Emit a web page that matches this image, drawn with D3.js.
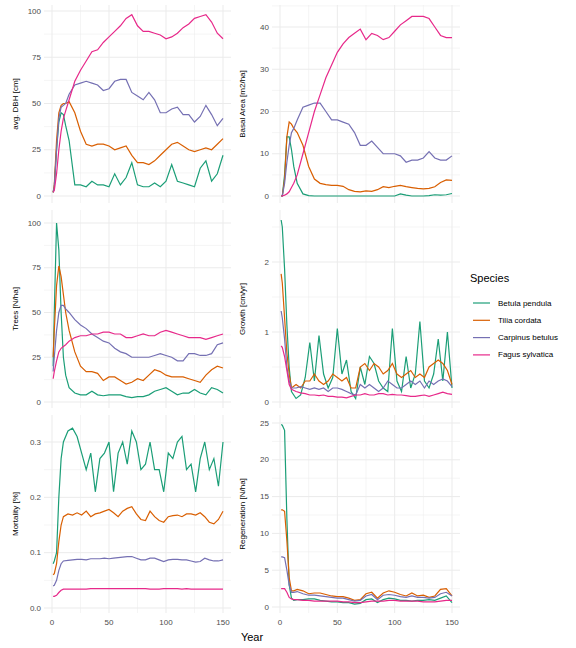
<!DOCTYPE html>
<html><head><meta charset="utf-8">
<script src="https://cdn.jsdelivr.net/npm/d3@7"></script>
<style>body{margin:0;background:#fff;font-family:"Liberation Sans",Arial,sans-serif}</style>
</head><body><svg id="chart" width="576" height="648"></svg>
<script>
// Species and colours
const species = ["Betula pendula", "Tilia cordata", "Carpinus betulus", "Fagus sylvatica"];
const colors = ["#1B9E77", "#D95F02", "#7570B3", "#E7298A"];

// Sampled years
const years = [1,2,4,6,8,10,12,15,20,25,30,35,40,45,50,55,60,65,70,75,80,85,90,95,100,105,110,115,120,125,130,135,140,145,150];
const years2 = [1,2,4,6,8,10,14,18,22,26,30,34,38,42,46,50,54,58,62,66,70,74,78,82,86,90,94,98,102,106,110,114,118,122,126,130,134,138,142,146,150];

// avg. DBH [cm]
const dbhBetula = [2,5,25,40,45,44,38,30,6,6,5,8,6,6,5,12,6,10,18,6,5,5,7,5,8,17,8,7,6,5,15,19,8,12,22];
const dbhTilia = [2,6,30,45,49,50,50,51,45,35,28,27,28,28,27,25,26,27,22,18,18,17,19,22,25,28,29,27,25,24,25,26,25,28,31];
const dbhCarpinus = [2,5,25,42,48,49,50,55,60,61,62,61,60,57,58,62,63,63,56,54,52,56,52,45,45,47,48,44,44,40,43,49,44,38,42];
const dbhFagus = [2,3,12,25,35,42,46,52,62,68,73,78,79,83,86,89,92,96,98,92,89,89,88,87,85,86,88,91,93,96,97,98,94,88,85];

// Basal Area [m2/ha]
const baBetula = [0,0,5,14,14,11,7,3,0.5,0.1,0,0,0,0,0,0,0,0,0,0,0,0,0,0,0,0.5,0.2,0,0,0,0.1,0.3,0.2,0.3,0.6];
const baTilia = [0,0,4,14,17.5,17,16,15,12,7,4,3,2.7,2.5,2.5,2.3,1.5,1.1,1.0,1.2,1.1,1.5,2.2,2.0,2.3,2.5,2.2,2.0,1.8,1.7,1.8,2.2,3.2,3.8,3.7];
const baCarpinus = [0,0,3,8,12,15,16,18,21,21.5,22,22,20,18,18,17.5,17,15,12,12,13,11.5,10,10,10,9.5,8,8.5,8.5,9,10.5,9,8.5,8.5,9.5];
const baFagus = [0,0,0.2,0.5,1,2,3,5,10,15,20,24,28,31,34,36,37.5,38.5,39.5,37,38.5,38,37,37.5,39,40.5,41.5,42.5,42.5,42.5,42,40,38,37.5,37.5];

// Trees [N/ha]
const trBetula = [20,50,100,85,50,25,15,8,5,4,4,6,4,3.5,4,4,4,3,2.5,3,3,4,6,7,8,6,4,5,5,7,5,4,8,7,5];
const trTilia = [25,40,65,76,70,60,50,40,28,20,17,17,16,12,14,14,12,10,11,13,12,15,18,17,15,14,14,14,13,12,11,15,18,20,19];
const trCarpinus = [17,25,40,50,54,54,52,50,46,43,41,38,36,34,33,30,28,27,25,25,25,25,26,27,26,25,23,23,27,27,26,26,27,32,33];
const trFagus = [13,17,23,28,30,31,32,34,36,37,37,38,38,39,39,38,38,36,36,37,38,37,37,39,40,39,38,37,36,36,36,35,36,37,38];

// Growth [cm/yr] (years2)
const grBetula = [2.6,2.5,1.9,1.1,0.5,0.15,0.05,0.1,0.35,0.85,0.3,0.95,0.4,0.2,0.35,1.05,0.4,0.6,0.15,0.05,0.5,0.25,0.65,0.55,0.3,0.2,0.15,1.05,0.3,0.15,0.65,0.2,0.4,1.15,0.3,0.2,0.4,0.9,0.3,1.0,0.2];
const grTilia = [1.83,1.7,1.2,0.7,0.4,0.2,0.25,0.2,0.3,0.3,0.4,0.3,0.25,0.3,0.4,0.35,0.3,0.35,0.2,0.2,0.5,0.55,0.45,0.55,0.5,0.4,0.45,0.55,0.4,0.35,0.4,0.45,0.35,0.4,0.35,0.5,0.55,0.6,0.55,0.45,0.25];
const grCarpinus = [1.3,1.2,0.9,0.5,0.3,0.2,0.2,0.22,0.2,0.18,0.2,0.18,0.2,0.15,0.2,0.2,0.18,0.15,0.12,0.1,0.25,0.2,0.25,0.2,0.15,0.2,0.3,0.25,0.2,0.2,0.25,0.3,0.25,0.3,0.2,0.3,0.25,0.3,0.33,0.3,0.22];
const grFagus = [0.8,0.78,0.65,0.45,0.25,0.18,0.15,0.13,0.12,0.1,0.1,0.09,0.1,0.08,0.08,0.07,0.07,0.06,0.08,0.1,0.1,0.12,0.1,0.1,0.12,0.12,0.1,0.11,0.1,0.1,0.09,0.08,0.08,0.09,0.1,0.08,0.1,0.12,0.14,0.12,0.11];

// Mortality [%] (years2)
const moBetula = [0.08,0.085,0.1,0.2,0.27,0.3,0.32,0.325,0.31,0.28,0.25,0.28,0.21,0.27,0.28,0.3,0.21,0.28,0.3,0.26,0.32,0.3,0.25,0.26,0.3,0.25,0.25,0.21,0.28,0.27,0.3,0.31,0.25,0.26,0.21,0.27,0.3,0.25,0.27,0.22,0.3];
const moTilia = [0.06,0.062,0.08,0.12,0.15,0.165,0.17,0.168,0.172,0.168,0.175,0.165,0.17,0.172,0.175,0.178,0.172,0.165,0.175,0.18,0.183,0.17,0.16,0.158,0.175,0.165,0.158,0.155,0.165,0.167,0.168,0.165,0.17,0.17,0.168,0.172,0.165,0.155,0.152,0.16,0.175];
const moCarpinus = [0.04,0.041,0.05,0.068,0.08,0.085,0.086,0.087,0.088,0.088,0.087,0.089,0.089,0.089,0.09,0.089,0.09,0.091,0.092,0.093,0.093,0.09,0.087,0.087,0.09,0.09,0.087,0.084,0.087,0.088,0.088,0.087,0.087,0.085,0.083,0.084,0.09,0.087,0.085,0.085,0.087];
const moFagus = [0.021,0.021,0.023,0.028,0.032,0.034,0.034,0.034,0.034,0.034,0.034,0.035,0.035,0.035,0.035,0.035,0.035,0.035,0.035,0.035,0.035,0.035,0.035,0.035,0.034,0.034,0.034,0.035,0.035,0.035,0.035,0.034,0.035,0.034,0.034,0.034,0.034,0.034,0.034,0.034,0.034];

// Regeneration [N/ha]
const reBetula = [24.8,24.7,24,12,3,1.2,0.9,1.0,1.0,1.1,1.1,0.9,0.8,0.7,0.7,0.6,0.6,0.4,0.5,1.0,1.1,0.6,1.0,1.2,1.1,0.9,0.9,0.8,0.9,0.9,1.0,0.9,1.2,1.5,0.6];
const reTilia = [13.2,13.2,13.0,9,4,2.2,2.2,2.4,2.2,1.8,1.9,1.9,1.7,1.5,1.4,1.4,1.2,0.9,1.0,1.8,2.0,1.2,1.9,2.2,2.0,1.7,1.5,1.9,1.5,1.6,1.3,1.5,2.4,2.5,1.5];
const reCarpinus = [6.8,6.8,6.7,5,3,2.0,2.0,2.1,1.8,1.6,1.6,1.5,1.4,1.3,1.2,1.2,1.0,0.8,0.9,1.5,1.7,1.0,1.6,1.7,1.6,1.4,1.3,1.5,1.3,1.3,1.2,1.3,1.8,2.0,1.5];
const reFagus = [2.5,2.5,2.5,2.0,1.3,1.1,1.0,1.0,0.9,0.9,0.8,0.8,0.8,0.8,0.8,0.7,0.7,0.6,0.6,0.7,0.8,0.8,0.8,0.9,0.9,0.8,0.8,0.8,0.8,0.7,0.7,0.7,0.8,0.9,0.9];

const xTicks = [0, 50, 100, 150];

const panels = [
  {title: "avg. DBH [cm]", x: years, series: [dbhBetula, dbhTilia, dbhCarpinus, dbhFagus], col: 0, top: 5, y0: 196, y1: 11, ymax: 100, ticks: [0,25,50,75,100], fmt: d3.format("d")},
  {title: "Basal Area [m2/ha]", x: years, series: [baBetula, baTilia, baCarpinus, baFagus], col: 1, top: 5, y0: 196, y1: 27, ymax: 40, ticks: [0,10,20,30,40], fmt: d3.format("d")},
  {title: "Trees [N/ha]", x: years, series: [trBetula, trTilia, trCarpinus, trFagus], col: 0, top: 210, y0: 402, y1: 223, ymax: 100, ticks: [0,25,50,75,100], fmt: d3.format("d")},
  {title: "Growth [cm/yr]", x: years2, series: [grBetula, grTilia, grCarpinus, grFagus], col: 1, top: 210, y0: 402, y1: 262, ymax: 2, ticks: [0,1,2], fmt: d3.format("d")},
  {title: "Mortality [%]", x: years2, series: [moBetula, moTilia, moCarpinus, moFagus], col: 0, top: 415, y0: 608, y1: 442, ymax: 0.3, ticks: [0,0.1,0.2,0.3], fmt: d3.format(".1f"), bottom: true},
  {title: "Regeneration [N/ha]", x: years, series: [reBetula, reTilia, reCarpinus, reFagus], col: 1, top: 415, y0: 607, y1: 423, ymax: 25, ticks: [0,5,10,15,20,25], fmt: d3.format("d"), bottom: true}
];

const svg = d3.select("#chart");
const panelH = 198;
const colX = [{left: 44, right: 231, x0: 52, x1: 223, label: 18}, {left: 272, right: 460, x0: 280, x1: 452, label: 245}];

panels.forEach(p => {
  const c = colX[p.col];
  const x = d3.scaleLinear().domain([0, 150]).range([c.x0, c.x1]);
  const y = d3.scaleLinear().domain([0, p.ymax]).range([p.y0, p.y1]);
  const yTop = y.invert(p.top), yBot = y.invert(p.top + panelH);
  const g = svg.append("g");

  // Minor grid
  const step = p.ticks[1] - p.ticks[0];
  const minorY = [];
  for (let i = 0; i < p.ticks.length + 1; i++) {
    const v = p.ticks[0] + step * (i - 0.5);
    if (v > yBot && v < yTop) minorY.push(v);
  }
  g.selectAll(".my").data(minorY).join("line")
    .attr("x1", c.left).attr("x2", c.right)
    .attr("y1", d => y(d)).attr("y2", d => y(d))
    .attr("stroke", "#ebebeb").attr("stroke-width", 0.5);
  g.selectAll(".mx").data([25, 75, 125]).join("line")
    .attr("y1", p.top).attr("y2", p.top + panelH)
    .attr("x1", d => x(d)).attr("x2", d => x(d))
    .attr("stroke", "#ebebeb").attr("stroke-width", 0.5);
  // Major grid
  g.selectAll(".gy").data(p.ticks).join("line")
    .attr("x1", c.left).attr("x2", c.right)
    .attr("y1", d => y(d)).attr("y2", d => y(d))
    .attr("stroke", "#ebebeb").attr("stroke-width", 1);
  g.selectAll(".gx").data(xTicks).join("line")
    .attr("y1", p.top).attr("y2", p.top + panelH)
    .attr("x1", d => x(d)).attr("x2", d => x(d))
    .attr("stroke", "#ebebeb").attr("stroke-width", 1);

  // Y tick labels
  g.selectAll(".yl").data(p.ticks).join("text")
    .attr("x", c.left - 3).attr("y", d => y(d))
    .attr("text-anchor", "end").attr("dominant-baseline", "central")
    .attr("font-size", 8).attr("fill", "#4d4d4d")
    .text(p.fmt);

  // Axis title
  g.append("text")
    .attr("transform", `translate(${c.label},${p.top + panelH / 2}) rotate(-90)`)
    .attr("text-anchor", "middle").attr("font-size", 8).attr("fill", "#000")
    .text(p.title);

  // X tick labels on bottom row
  if (p.bottom) {
    g.selectAll(".xl").data(xTicks).join("text")
      .attr("x", d => x(d)).attr("y", 625)
      .attr("text-anchor", "middle").attr("font-size", 8).attr("fill", "#4d4d4d")
      .text(d => d);
  }

  // Lines
  const line = d3.line().x((d, i) => x(p.x[i])).y(d => y(d));
  p.series.forEach((s, i) => {
    g.append("path").datum(s)
      .attr("d", line)
      .attr("fill", "none").attr("stroke", colors[i]).attr("stroke-width", 1.2);
  });
});

// Shared x title
svg.append("text").attr("x", 252).attr("y", 641)
  .attr("text-anchor", "middle").attr("font-size", 11).text("Year");

// Legend
const legend = svg.append("g").attr("transform", "translate(470,282)");
legend.append("text").attr("x", 0).attr("y", 0).attr("font-size", 11).text("Species");
species.forEach((s, i) => {
  const yy = 21 + i * 17.3;
  legend.append("line").attr("x1", 3).attr("x2", 20).attr("y1", yy).attr("y2", yy)
    .attr("stroke", colors[i]).attr("stroke-width", 1.2);
  legend.append("text").attr("x", 28).attr("y", yy).attr("dominant-baseline", "central")
    .attr("font-size", 8).text(s);
});
</script></body></html>
